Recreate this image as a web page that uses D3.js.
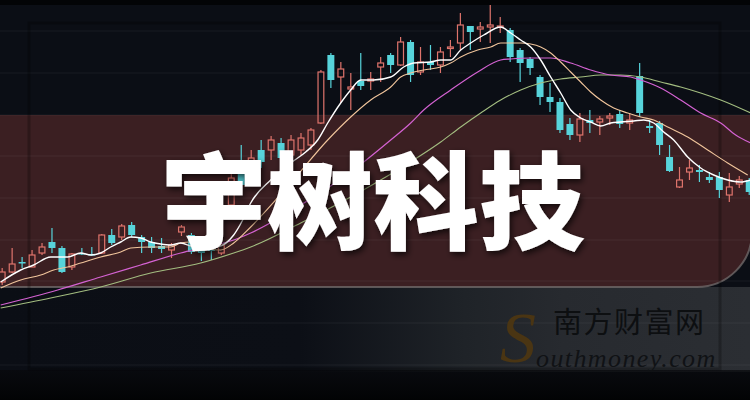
<!DOCTYPE html>
<html><head><meta charset="utf-8">
<script src="https://cdn.jsdelivr.net/npm/d3@7"></script>
<style>html,body{margin:0;padding:0;background:#0b0e15;overflow:hidden}</style>
</head><body><svg id="c" width="750" height="400"></svg>
<script>
// ---- data ----
const open  = [11.8,12.8,13.8,13.3,14.7,15.8,15.2,13.3,14.7,14.6,14.7,16.5,16.3,17.5,16.3,15.8,15.4,15.0,16.8,16.5,15.3,15.1,14.7,19.5,24.0,22.2,25.0,25.0,25.7,24.5,25.0,25.5,27.7,34.5,32.3,31.1,31.9,31.9,33.3,34.5,33.5,35.8,32.8,33.8,33.5,35.2,35.7,37.4,37.1,37.3,37.3,37.0,35.0,34.1,32.3,30.3,29.8,27.6,26.5,28.0,27.8,28.2,28.6,27.7,32.4,27.4,27.7,24.3,21.3,22.8,23.0,22.3,22.3,20.5,21.6,22.0];
const close = [12.8,13.6,13.7,14.5,15.3,15.2,12.8,14.6,14.6,14.5,16.5,15.7,17.4,16.5,15.8,15.2,15.1,15.5,17.3,14.8,14.7,14.9,15.5,22.2,21.5,24.2,23.8,26.0,24.2,26.0,26.2,27.0,32.8,32.0,33.1,31.3,31.4,32.1,33.7,33.5,35.8,32.5,33.8,33.5,34.8,35.3,37.5,36.8,37.3,37.5,37.4,34.3,33.7,33.2,30.3,29.8,27.0,26.5,28.1,27.7,28.1,28.4,27.6,28.0,28.7,27.2,25.5,22.9,22.0,23.2,22.8,22.0,21.0,21.3,22.0,20.8];
const high  = [13.2,15.2,14.3,15.0,15.7,17.2,15.4,14.7,15.2,15.3,16.6,17.1,17.6,17.8,16.5,16.3,16.2,15.7,17.5,16.7,15.5,15.5,15.7,22.8,25.5,25.0,26.0,26.4,26.2,26.5,26.7,27.2,33.0,34.7,33.8,32.7,34.7,32.8,34.3,34.7,36.3,36.0,35.3,35.5,35.3,36.0,38.7,37.4,37.8,39.5,38.3,37.2,35.2,34.3,32.5,31.7,30.2,28.2,28.7,29.0,28.4,28.7,29.0,28.7,33.7,28.0,27.9,25.5,23.3,24.0,23.5,22.8,22.8,22.7,22.4,22.2];
const low   = [11.5,12.7,13.2,13.3,14.5,14.7,12.7,13.0,14.5,14.4,14.6,15.5,16.0,16.3,14.7,14.7,14.7,14.2,16.4,14.6,13.9,14.0,14.5,19.0,21.0,21.8,23.2,24.0,23.5,24.0,24.5,25.0,27.6,31.2,29.7,29.0,31.0,31.0,31.8,32.7,33.4,31.8,32.5,33.0,32.7,34.3,35.0,35.0,35.8,35.7,36.7,33.8,31.8,32.5,29.5,28.8,26.7,26.0,25.8,26.7,26.5,27.5,27.2,27.0,28.3,26.7,24.5,22.8,21.2,22.0,21.8,21.7,20.2,19.8,21.2,20.5];

// moving-average lines: [day index, value]
const ma5 = [[0,11.8],[2,13.0],[3.3,13.5],[5,14.3],[6.7,14.3],[8,14.7],[9,14.5],[10,14.7],[11,15.3],[12,15.8],[13,16.3],[14,16.2],[15,15.8],[16,15.6],[17,15.5],[18,15.7],[19,15.4],[20,15.1],[21.7,15.3],[23.3,16.5],[24.2,18.0],[25,19.7],[27,22.0],[29,23.7],[30.5,24.8],[31.7,26.0],[32.7,27.7],[34,29.7],[35,31.0],[36,32.0],[37.3,32.0],[39,32.3],[40.3,33.3],[41.3,33.7],[43,33.8],[44,34.0],[45,34.0],[46,35.0],[47,35.7],[48.3,36.5],[50,37.3],[51,36.7],[52,36.0],[53,35.3],[54,34.0],[55,32.3],[56,30.7],[57,29.0],[58,28.2],[59,27.8],[60,27.4],[61,27.7],[62,27.8],[63.3,27.9],[64.3,28.0],[65.3,27.7],[66.3,26.8],[67.3,26.0],[68.7,24.3],[70,23.2],[71.3,22.5],[72.7,22.0],[74,21.8],[75,22.0]];
const ma10 = [[0,11.2],[2,12.0],[4,12.5],[5.3,13.0],[6.7,13.3],[8,13.7],[10,14.3],[12,14.8],[13,15.2],[15,15.3],[17,15.3],[18,15.7],[19,15.8],[20.7,15.1],[22,15.0],[23.3,15.7],[25,17.3],[29,21.7],[32.7,26.0],[35,28.3],[37,30.0],[39,31.3],[40,32.3],[41,32.7],[42.3,33.0],[44,33.3],[45,33.7],[46,34.3],[47.7,35.0],[49,35.3],[50,35.7],[52,35.7],[53,35.6],[54,35.3],[55,34.7],[56,33.8],[57,32.8],[58,31.8],[59,30.8],[60,30.0],[61.3,29.2],[62.7,28.7],[64,28.3],[65.3,28.0],[66.7,27.3],[68.7,26.3],[70.7,25.0],[72.7,23.7],[74.7,22.5]];
const ma20 = [[0,9.5],[5.7,11.0],[10,12.3],[14,13.5],[18,14.7],[20,15.2],[23.3,16.0],[25,16.7],[30,19.5],[35,22.8],[39,26.0],[41,27.7],[42.3,29.0],[45,31.0],[47.7,32.8],[50,34.0],[51,34.1],[53,34.2],[55,34.2],[57,33.7],[59,33.0],[61,32.5],[63,32.3],[64,32.0],[66,31.2],[68,30.0],[70,28.7],[72,27.7],[73.5,26.5],[75,25.7]];
const ma60 = [[0,9.2],[5,10.2],[10,11.3],[15,12.7],[20,13.7],[23.3,14.7],[25,15.3],[30,17.7],[35,20.3],[40,23.2],[44,25.8],[46,27.3],[48,28.7],[50,30.0],[52,31.0],[54,31.7],[56,32.1],[58,32.3],[60,32.5],[62,32.5],[64,32.3],[66,31.8],[68,31.3],[70,30.7],[72,30.0],[75,28.7]];
const gridLevels = [3.5,7.7,11.9,16.0,20.2,24.4,28.5,32.7,36.9];
const title = "宇树科技";
const wmCn = "南方财富网";
const wmS = "S";
const wmEn = "outhmoney.com";

// ---- drawing ----
const W = 750, H = 400;
const svg = d3.select("#c");
const days = d3.range(open.length);
const xb = d3.scaleBand().domain(days).range([-4.3, 755.7]).padding(0.3);
const xl = d3.scaleLinear().domain([0, 75]).range([0.7, 750.7]);
const y = d3.scaleLinear().domain([0, 40]).range([400, 0]);

const defs = svg.append("defs");
const g1 = defs.append("linearGradient").attr("id","glow").attr("x1","0").attr("x2","1").attr("y1","0").attr("y2","0");
g1.append("stop").attr("offset","0").attr("stop-color","#0b0e15");
g1.append("stop").attr("offset","0.4").attr("stop-color","#0c0f16");
g1.append("stop").attr("offset","0.62").attr("stop-color","#1f2328");
g1.append("stop").attr("offset","0.75").attr("stop-color","#272a2f");
g1.append("stop").attr("offset","1").attr("stop-color","#2b2e33");
const g2 = defs.append("linearGradient").attr("id","fade").attr("x1","0").attr("x2","0").attr("y1","0").attr("y2","1");
g2.append("stop").attr("offset","0").attr("stop-color","#07080b").attr("stop-opacity",0.7);
g2.append("stop").attr("offset","1").attr("stop-color","#020304").attr("stop-opacity",1);
const sh = defs.append("filter").attr("id","sh").attr("x","-10%").attr("y","-10%").attr("width","130%").attr("height","130%");
sh.append("feDropShadow").attr("dx",2).attr("dy",3).attr("stdDeviation",3).attr("flood-color","#000").attr("flood-opacity",0.7);

// background
svg.append("rect").attr("width",W).attr("height",H).attr("fill","#0b0e15");
svg.append("rect").attr("x",0).attr("y",287).attr("width",W).attr("height",85).attr("fill","url(#glow)");
svg.append("rect").attr("x",0).attr("y",370).attr("width",W).attr("height",30).attr("fill","url(#fade)");
svg.append("rect").attr("x",0).attr("y",0).attr("width",W).attr("height",5).attr("fill","#030406");

// band
const bT = 115, bB = 287, bR = 752, rad = 55;
svg.append("path")
  .attr("d", `M-5,${bT}H${bR}V${bB-rad}A${rad},${rad} 0 0 1 ${bR-rad},${bB}H-5Z`)
  .attr("fill","#3b1f22");
svg.append("path")
  .attr("d", `M-5,${bB}H${bR-rad}A${rad},${rad} 0 0 0 ${bR},${bB-rad}`)
  .attr("fill","none").attr("stroke","#6e6868").attr("stroke-width",2).attr("stroke-opacity",0.8);

// grid
svg.append("g").selectAll("line").data(gridLevels).join("line")
  .attr("x1",0).attr("x2",W).attr("y1",d=>y(d)).attr("y2",d=>y(d))
  .attr("stroke","#ffffff").attr("stroke-opacity",0.06).attr("stroke-width",1);

// frame
svg.append("rect").attr("x",29).attr("y",23).attr("width",691).attr("height",346)
  .attr("fill","none").attr("stroke","#000").attr("stroke-opacity",0.25).attr("stroke-width",3);

// candles
const RED = "#df746c", CYAN = "#57d4db";
const cg = svg.append("g");
days.forEach(i => {
  const up = close[i] >= open[i];
  const col = up ? RED : CYAN;
  const cx = xb(i) + xb.bandwidth()/2;
  const top = y(Math.max(open[i], close[i]));
  const bot = y(Math.min(open[i], close[i]));
  const h = Math.max(bot - top, 1.5);
  if (up) {
    cg.append("line").attr("x1",cx).attr("x2",cx).attr("y1",y(high[i])).attr("y2",top).attr("stroke",col).attr("stroke-width",1.2);
    cg.append("line").attr("x1",cx).attr("x2",cx).attr("y1",top+h).attr("y2",y(low[i])).attr("stroke",col).attr("stroke-width",1.2);
    cg.append("rect").attr("x",xb(i)+0.6).attr("y",top).attr("width",xb.bandwidth()-1.2).attr("height",h)
      .attr("fill","none").attr("stroke",col).attr("stroke-width",1.2);
  } else {
    cg.append("line").attr("x1",cx).attr("x2",cx).attr("y1",y(high[i])).attr("y2",y(low[i])).attr("stroke",col).attr("stroke-width",1.2);
    cg.append("rect").attr("x",xb(i)).attr("y",top).attr("width",xb.bandwidth()).attr("height",h).attr("fill",col);
  }
});

// MA lines
const line = d3.line().x(d=>xl(d[0])).y(d=>y(d[1])).curve(d3.curveMonotoneX);
[[ma60,"#a3bd80",1.1],[ma20,"#d462d2",1.2],[ma10,"#f1c59c",1.1],[ma5,"#ffffff",1.4]].forEach(([d,c,w])=>{
  svg.append("path").attr("d",line(d)).attr("fill","none").attr("stroke",c).attr("stroke-width",w);
});

// title
svg.append("text").attr("x",373).attr("y",241).attr("text-anchor","middle")
  .attr("font-family","'Noto Sans CJK SC','Noto Sans CJK JP',sans-serif").attr("font-weight",900)
  .attr("font-size",106).attr("fill","#ffffff").attr("filter","url(#sh)").text(title);

// watermark
svg.append("text").attr("x",500).attr("y",362).attr("font-family","'Liberation Serif',serif")
  .attr("font-style","italic").attr("font-size",72).attr("fill","#4a3513").text(wmS);
svg.append("text").attr("x",553).attr("y",333).attr("font-family","'Noto Sans CJK SC',sans-serif")
  .attr("font-size",29).attr("letter-spacing",1.5).attr("fill","#0d0f11").text(wmCn);
svg.append("text").attr("x",536).attr("y",367).attr("font-family","'Liberation Serif',serif")
  .attr("font-style","italic").attr("font-size",26).attr("letter-spacing",1.4).attr("fill","#101215").text(wmEn);
</script></body></html>
